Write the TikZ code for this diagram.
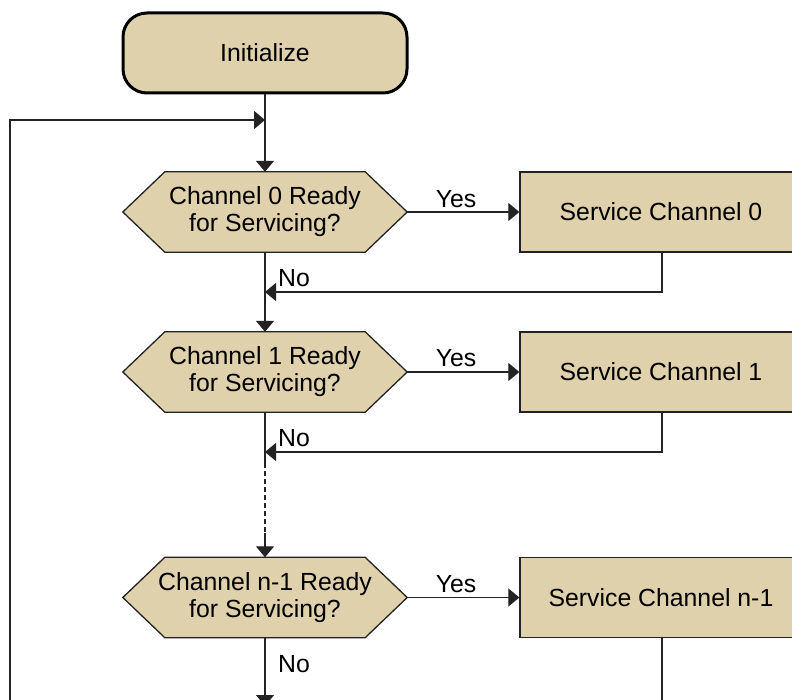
\documentclass[tikz,border=0pt]{standalone}
\usepackage{fontspec}
\setmainfont{Liberation Sans}
\usetikzlibrary{arrows.meta,backgrounds}
\definecolor{tan}{RGB}{222,209,171}
\definecolor{edge}{RGB}{35,35,35}

\begin{document}
\begin{tikzpicture}[x=1pt,y=-1pt,
  every node/.style={font=\fontsize{24.8}{27}\selectfont, text=black},
  startbox/.style={draw=black, line width=3pt, fill=tan, rounded corners=24pt,
    minimum width=284pt, minimum height=80pt, inner sep=0pt},
  procbox/.style={draw=edge, line width=1.3pt, fill=tan,
    minimum width=282pt, minimum height=80pt, inner sep=0pt},
  decision/.style={minimum width=284pt, minimum height=80pt, inner sep=0pt, align=center},
  flow/.style={draw=edge, line width=1.2pt},
  arr/.style={flow, -{Triangle[length=11pt,width=18pt]}},
  lbl/.style={inner sep=0pt}]

\useasboundingbox (0,0) rectangle (792,700);

% start
\node[startbox] (init) at (265,53) {Initialize};

% decisions
\node[decision] (d0) at (265,212) {Channel 0 Ready\\for Servicing?};
\node[decision] (d1) at (265,372) {Channel 1 Ready\\for Servicing?};
\node[decision] (d2) at (265,597.5) {Channel n-1 Ready\\for Servicing?};

% hexagon outlines behind the decision texts
\begin{scope}[on background layer]
  \foreach \dn in {d0,d1,d2}
    \draw[flow, line width=1.3pt, fill=tan, line join=miter]
      (\dn.west) -- ([xshift=42pt]\dn.north west) -- ([xshift=-42pt]\dn.north east)
      -- (\dn.east) -- ([xshift=-42pt]\dn.south east) -- ([xshift=42pt]\dn.south west) -- cycle;
\end{scope}

% service steps
\node[procbox] (s0) at (661,212) {Service Channel 0};
\node[procbox] (s1) at (661,372) {Service Channel 1};
\node[procbox] (s2) at (661,597.5) {Service Channel n-1};

% junction points on the main column
\coordinate (j0) at (265,120);
\coordinate (r0) at (265,292);
\coordinate (r1) at (265,452);
\coordinate (dashA) at (265,463);
\coordinate (dashB) at (265,533);
\coordinate (loopbot) at (10,712);
\coordinate (outbot) at (265,706);
\coordinate (s2bot) at (662,712);

% main column
\draw[flow] (init) -- (j0);
\draw[arr] (j0) -- (d0.north);
\draw[arr] (d0.south) -- (d1.north);
\draw[flow] (d1.south) -- (dashA);
\draw[flow, line width=1.5pt, dash pattern=on 5pt off 3pt] (dashA) -- (dashB);
\draw[arr] (dashB) -- (d2.north);
\draw[arr] (d2.south) -- (outbot);

% loop back to the top
\draw[arr] (loopbot) |- (j0);

% yes branches
\draw[arr] (d0.east) -- (s0.west);
\draw[arr] (d1.east) -- (s1.west);
\draw[arr] (d2.east) -- (s2.west);

% returns from service steps
\draw[arr] ([xshift=1pt]s0.south) |- (r0);
\draw[arr] ([xshift=1pt]s1.south) |- (r1);
\draw[flow] ([xshift=1pt]s2.south) -- (s2bot);

% labels
\node[lbl] (y0) at (456,199) {Yes};
\node[lbl] (y1) at (456,358) {Yes};
\node[lbl] (y2) at (456,584) {Yes};
\node[lbl] (n0) at (294,278) {No};
\node[lbl] (n1) at (294,438) {No};
\node[lbl] (n2) at (294,664) {No};
\end{tikzpicture}
\end{document}
